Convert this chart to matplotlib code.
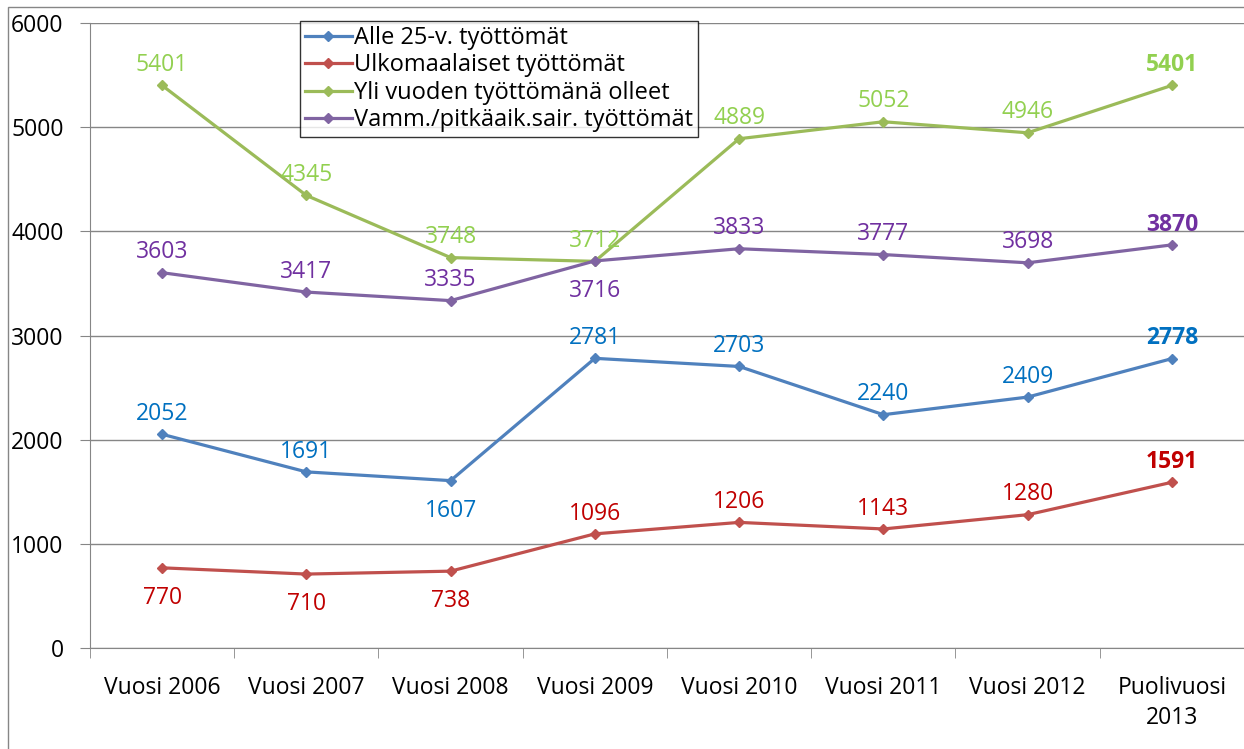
import matplotlib.pyplot as plt
from matplotlib.patches import Rectangle

plt.rcParams['font.family'] = ['Open Sans', 'DejaVu Sans']

# Data
kategoriat = ['Vuosi 2006', 'Vuosi 2007', 'Vuosi 2008', 'Vuosi 2009',
              'Vuosi 2010', 'Vuosi 2011', 'Vuosi 2012', 'Puolivuosi\n2013']
alle25 = [2052, 1691, 1607, 2781, 2703, 2240, 2409, 2778]
ulkomaalaiset = [770, 710, 738, 1096, 1206, 1143, 1280, 1591]
yli_vuoden = [5401, 4345, 3748, 3712, 4889, 5052, 4946, 5401]
vamm = [3603, 3417, 3335, 3716, 3833, 3777, 3698, 3870]

# label placement: 1 = above, -1 = below
pos_alle25 = [1, 1, -1, 1, 1, 1, 1, 1]
pos_ulko = [-1, -1, -1, 1, 1, 1, 1, 1]
pos_yli = [1, 1, 1, 1, 1, 1, 1, 1]
pos_vamm = [1, 1, 1, -1, 1, 1, 1, 1]

sarjat = [
    ('Alle 25-v. työttömät', alle25, '#4F81BD', '#0070C0', pos_alle25),
    ('Ulkomaalaiset työttömät', ulkomaalaiset, '#C0504D', '#C00000', pos_ulko),
    ('Yli vuoden työttömänä olleet', yli_vuoden, '#9BBB59', '#92D050', pos_yli),
    ('Vamm./pitkäaik.sair. työttömät', vamm, '#8064A2', '#7030A0', pos_vamm),
]

fs = 16.5

fig = plt.figure(figsize=(12.44, 7.49), dpi=100)
ax = fig.add_axes([0.0723, 0.1348, 0.9277, 0.8345])

x = list(range(len(kategoriat)))
for nimi, arvot, vari, tekstivari, paikat in sarjat:
    ax.plot(x, arvot, color=vari, lw=2.3, marker='D', ms=5.5,
            markeredgecolor=vari, label=nimi, zorder=3)
    for i, (v, p) in enumerate(zip(arvot, paikat)):
        viimeinen = i == len(arvot) - 1
        if p > 0:
            ax.annotate(str(v), (i, v), xytext=(0, 6), textcoords='offset points',
                        ha='center', va='bottom', color=tekstivari, fontsize=fs,
                        fontweight='bold' if viimeinen else 'normal')
        else:
            ax.annotate(str(v), (i, v), xytext=(0, -13), textcoords='offset points',
                        ha='center', va='top', color=tekstivari, fontsize=fs)

ax.set_xlim(-0.5, 7.5)
ax.set_ylim(0, 6000)
ax.set_yticks(range(0, 6001, 1000))
ax.set_xticks(x)
ax.set_xticklabels(kategoriat, fontsize=fs, linespacing=1.35)
ax.set_xticks([i - 0.5 for i in range(len(kategoriat) + 1)], minor=True)
ax.tick_params(axis='x', which='major', length=0, pad=20)
ax.tick_params(axis='x', which='minor', length=7, color='#868686')
ax.tick_params(axis='y', length=7, color='#868686', pad=12, labelsize=fs)

ax.grid(axis='y', color='#868686', lw=1)
ax.set_axisbelow(True)
for s in ['top', 'right']:
    ax.spines[s].set_visible(False)
ax.spines['left'].set_color('#868686')
ax.spines['bottom'].set_color('#868686')

leg = ax.legend(loc='upper left', bbox_to_anchor=(0.182, 1.003), fontsize=17,
                frameon=True, fancybox=False, edgecolor='black',
                borderpad=0.2, labelspacing=0.15, handlelength=2.0,
                handletextpad=0.1, borderaxespad=0)
leg.get_frame().set_linewidth(1)

# outer chart border
fig.patches.append(Rectangle((8 / 1244, -0.01), 1.1, 1 - 7 / 749 + 0.01,
                             transform=fig.transFigure, fill=False,
                             edgecolor='#868686', lw=1))

fig.savefig('out.png', dpi=100)
